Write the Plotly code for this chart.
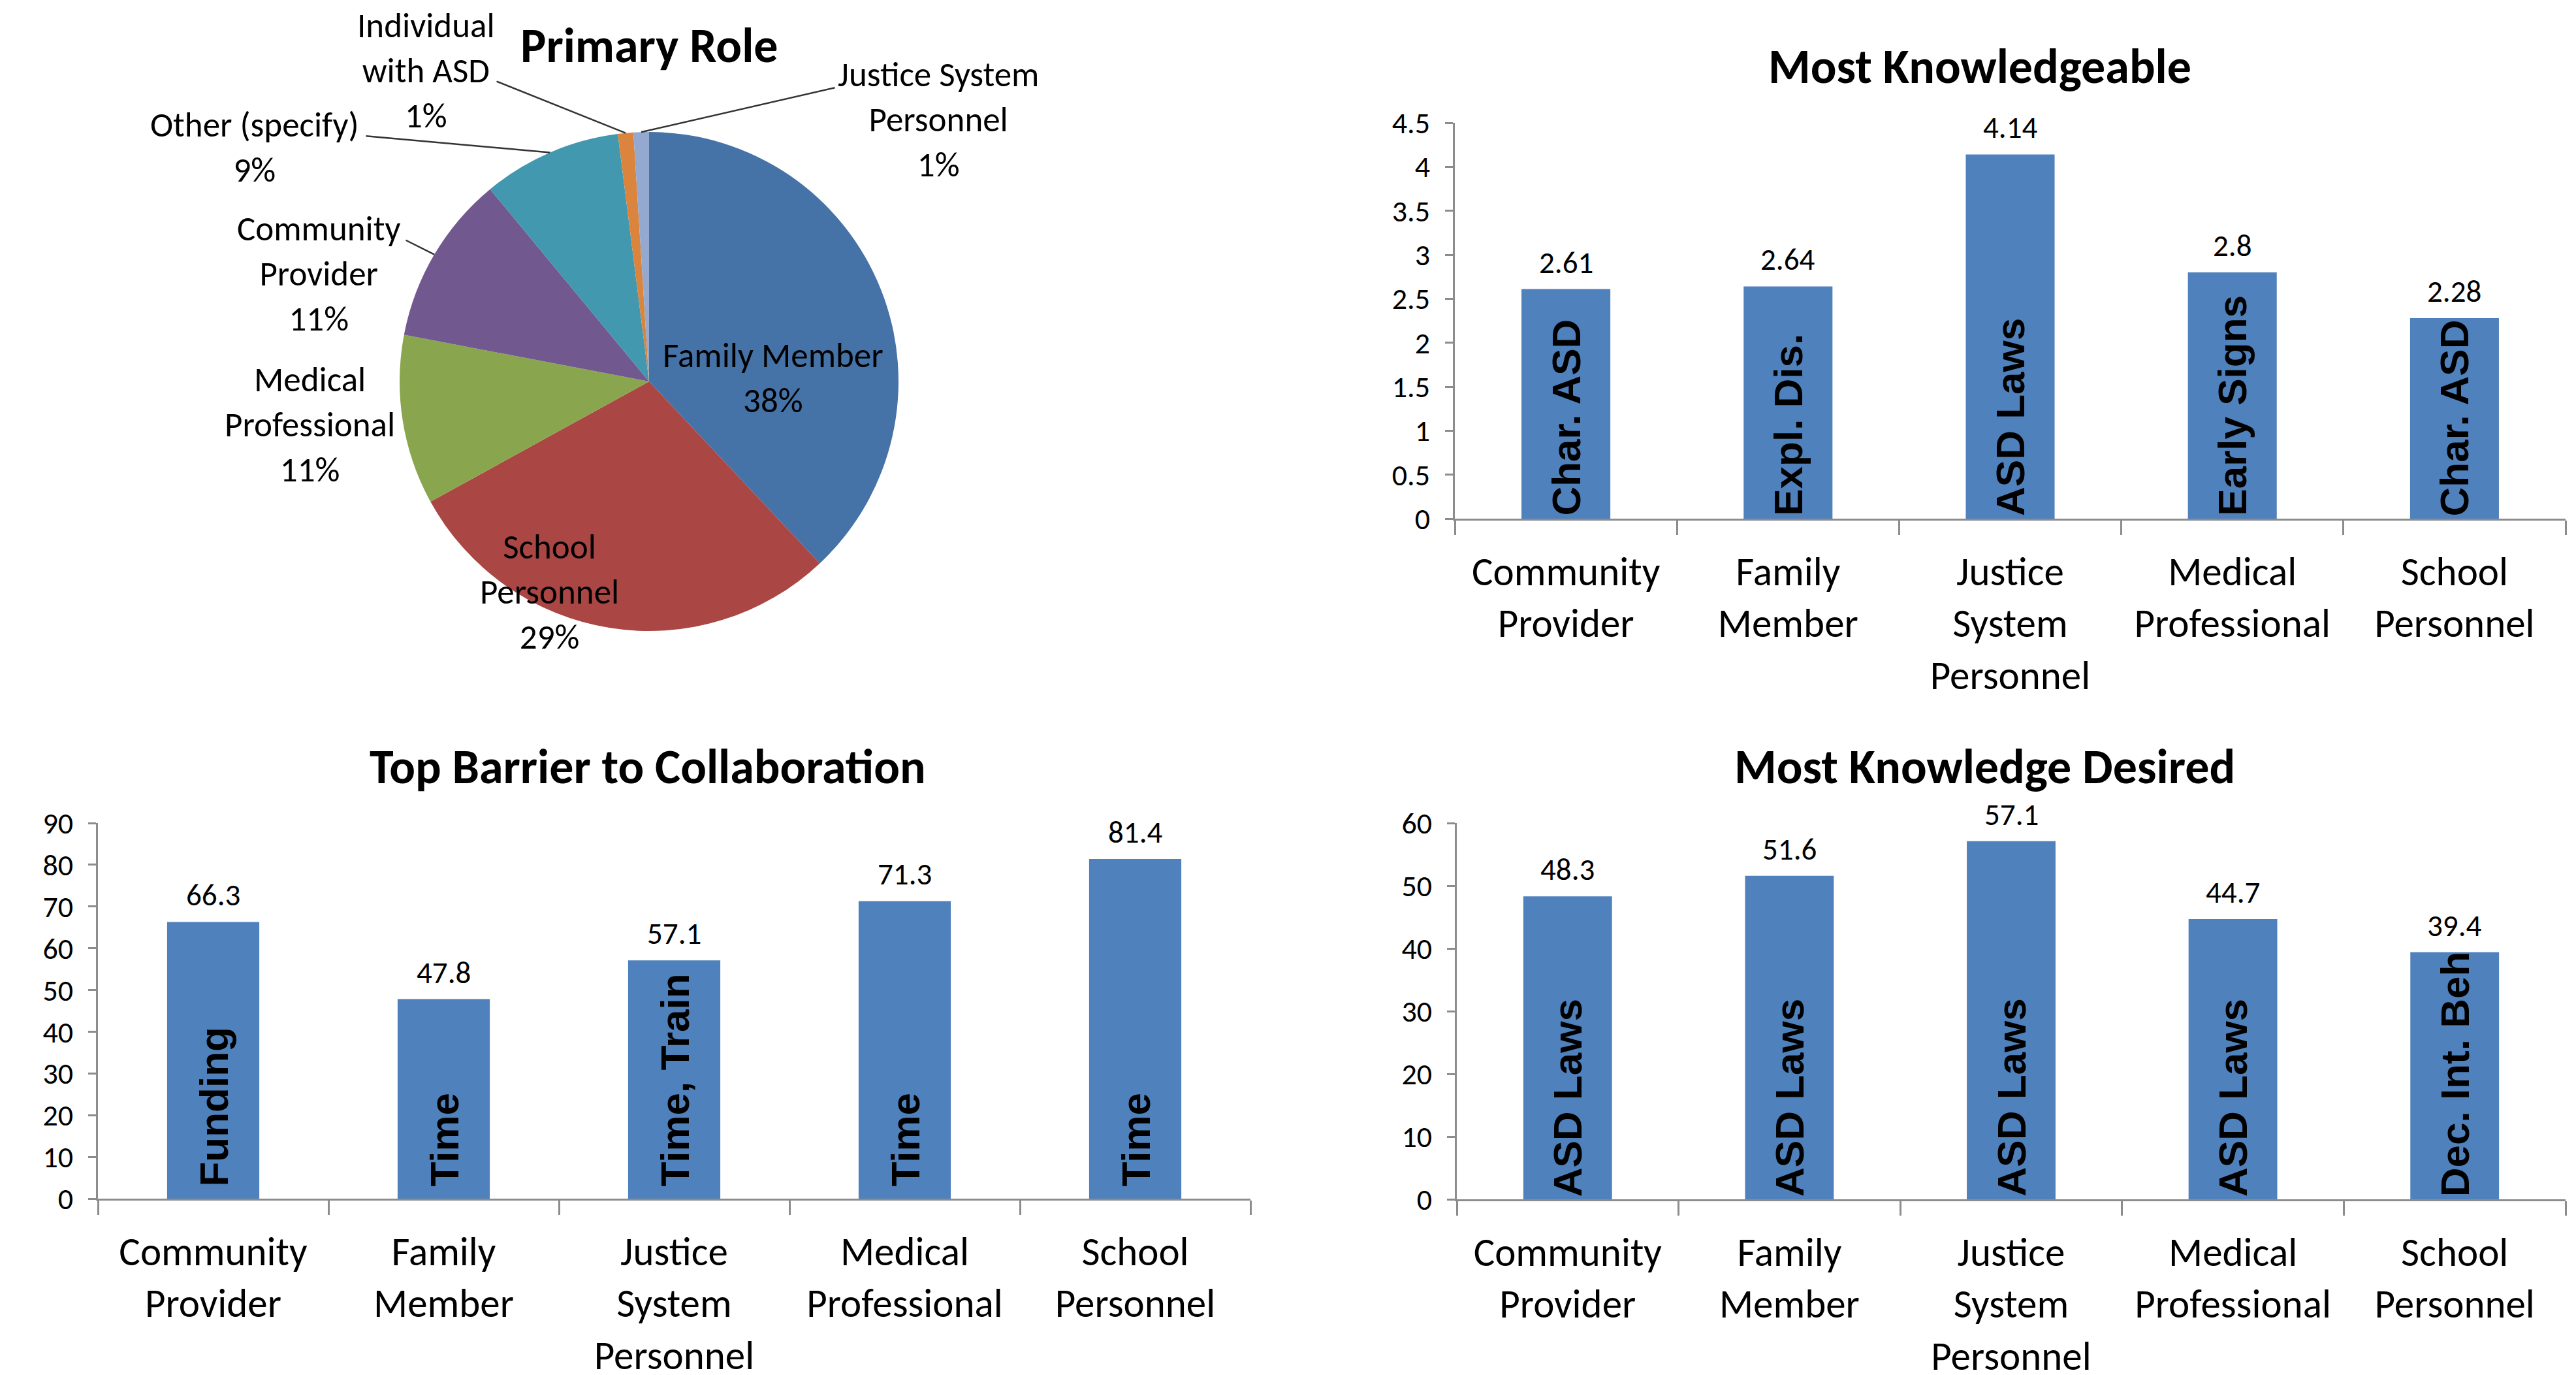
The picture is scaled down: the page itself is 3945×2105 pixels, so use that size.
import math
import plotly.graph_objects as go

# ---------------- data ----------------
roles = ["Family Member", "School Personnel", "Medical Professional",
         "Community Provider", "Other (specify)", "Individual with ASD",
         "Justice System Personnel"]
role_pct = [38, 29, 11, 11, 9, 1, 1]
pie_colors = ["#4572A7", "#AA4643", "#89A54E", "#71588F", "#4198AF", "#DB843D", "#93A9CF"]

categories = ["Community<br>Provider", "Family<br>Member", "Justice<br>System<br>Personnel",
              "Medical<br>Professional", "School<br>Personnel"]

knowledgeable_vals = [2.61, 2.64, 4.14, 2.8, 2.28]
knowledgeable_topics = ["Char. ASD", "Expl. Dis.", "ASD Laws", "Early Signs", "Char. ASD"]

barrier_vals = [66.3, 47.8, 57.1, 71.3, 81.4]
barrier_topics = ["Funding", "Time", "Time, Train", "Time", "Time"]

desired_vals = [48.3, 51.6, 57.1, 44.7, 39.4]
desired_topics = ["ASD Laws", "ASD Laws", "ASD Laws", "ASD Laws", "Dec. Int. Beh"]

# ---------------- style ----------------
W, H = 3945, 2105
OFF = 8  # page body margin compensation (px)
FONT = "Carlito, 'Liberation Sans Narrow', 'Open Sans', sans-serif"
BOLDFONT = "'Liberation Sans', Arial, sans-serif"
BAR = "#4F81BD"
AXC = "#8C8C8C"


def px_x(p):
    return (p - OFF) / W


def px_y(p):
    return 1 - (p - OFF) / H


# pie geometry (page pixels)
cx, cy, r = 994, 584, 382
pie_dom_x = [px_x(cx - r), px_x(cx + r)]
pie_dom_y = [px_y(cy + r), px_y(cy - r)]

fig = go.Figure()
fig.add_trace(go.Pie(
    labels=roles, values=role_pct, sort=False, direction="clockwise", rotation=0,
    marker=dict(colors=pie_colors, line=dict(width=0)),
    textinfo="none", hoverinfo="label+percent", showlegend=False,
    domain=dict(x=pie_dom_x, y=pie_dom_y), automargin=False,
))

annotations = []


def ann(text, x, y, size, bold=False, **kw):
    annotations.append(dict(
        text=f"<b>{text}</b>" if bold else text, x=px_x(x), y=px_y(y),
        xref="paper", yref="paper", xanchor="center", yanchor="middle", showarrow=False,
        font=dict(family=FONT, size=size, color="black"), **kw))


# titles
ann("Primary Role", 994, 70, 74, bold=True)
ann("Most Knowledgeable", 3032, 102, 74, bold=True)
ann("Top Barrier to Collaboration", 992, 1174, 74, bold=True)
ann("Most Knowledge Desired", 3039, 1174, 74, bold=True)

# pie labels
total = sum(role_pct)
pct = [f"{v / total * 100:.0f}%" for v in role_pct]
label_text = {
    "Family Member": "Family Member<br>" + pct[0],
    "School Personnel": "School<br>Personnel<br>" + pct[1],
    "Medical Professional": "Medical<br>Professional<br>" + pct[2],
    "Community Provider": "Community<br>Provider<br>" + pct[3],
    "Other (specify)": "Other (specify)<br>" + pct[4],
    "Individual with ASD": "Individual<br>with ASD<br>" + pct[5],
    "Justice System Personnel": "Justice System<br>Personnel<br>" + pct[6],
}
label_pos = {
    "Family Member": (1184, 578),
    "School Personnel": (841, 906),
    "Medical Professional": (474, 650),
    "Community Provider": (488, 419),
    "Other (specify)": (390, 226),
    "Individual with ASD": (652, 108),
    "Justice System Personnel": (1437, 183),
}
for name in roles:
    x, y = label_pos[name]
    ann(label_text[name], x, y, 53)

# leader lines from label to slice edge (slice mid-angle from data)
leader_tail = {
    "Community Provider": (620, 367),
    "Other (specify)": (559, 208),
    "Individual with ASD": (759, 124),
    "Justice System Personnel": (1280, 134),
}
cum = 0
for name, v in zip(roles, role_pct):
    mid = (cum + v / 2) / total * 2 * math.pi
    cum += v
    if name in leader_tail:
        hx = cx + r * math.sin(mid)
        hy = cy - r * math.cos(mid)
        tx, ty = leader_tail[name]
        annotations.append(dict(
            text="", x=px_x(hx), y=px_y(hy), xref="paper", yref="paper", showarrow=True,
            arrowhead=0, arrowwidth=2.5, arrowcolor="#333333",
            ax=tx - hx, ay=ty - hy, axref="pixel", ayref="pixel", standoff=0))

# bar charts (domains in page pixels)
charts = [
    dict(ax="2", vals=knowledgeable_vals, topics=knowledgeable_topics,
         xd=[px_x(2228), px_x(3929)], yd=[px_y(794), px_y(188)], rng=[0, 4.5], dtick=0.5, shift=2),
    dict(ax="3", vals=barrier_vals, topics=barrier_topics,
         xd=[px_x(150), px_x(1915)], yd=[px_y(1835), px_y(1260)], rng=[0, 90], dtick=10, shift=16),
    dict(ax="4", vals=desired_vals, topics=desired_topics,
         xd=[px_x(2231), px_x(3929)], yd=[px_y(1836), px_y(1260)], rng=[0, 60], dtick=10, shift=2),
]

layout_axes = {}
for c in charts:
    a = c["ax"]
    fig.add_trace(go.Bar(
        x=categories, y=c["vals"], xaxis="x" + a, yaxis="y" + a,
        marker=dict(color=BAR, line=dict(width=0)), showlegend=False, width=0.4,
        hoverinfo="x+y",
    ))
    # value labels above bars
    for cat, v in zip(categories, c["vals"]):
        annotations.append(dict(
            text=f"{v:g}", x=cat, y=v, xref="x" + a, yref="y" + a,
            xanchor="center", yanchor="bottom", yshift=10, showarrow=False,
            font=dict(family=FONT, size=47, color="black")))
    layout_axes["xaxis" + a] = dict(
        domain=c["xd"], anchor="y" + a, type="category", automargin=False,
        showline=True, linecolor=AXC, linewidth=2.5, mirror=False,
        ticks="outside", tickson="boundaries", ticklen=22, tickwidth=2.5, tickcolor=AXC,
        tickfont=dict(family=FONT, size=61, color="black"), ticklabelstandoff=26,
        showgrid=False, zeroline=False, fixedrange=True,
    )
    layout_axes["yaxis" + a] = dict(
        domain=c["yd"], anchor="x" + a, range=c["rng"], dtick=c["dtick"], automargin=False,
        showline=True, linecolor=AXC, linewidth=2.5,
        ticks="outside", ticklen=12, tickwidth=2.5, tickcolor=AXC,
        tickfont=dict(family=FONT, size=46, color="black"), ticklabelstandoff=14,
        showgrid=False, zeroline=False, fixedrange=True,
    )
    for cat, topic in zip(categories, c["topics"]):
        annotations.append(dict(
            text=f"<b>{topic}</b>", x=cat, y=0, xref="x" + a, yref="y" + a,
            xanchor="center", yanchor="bottom", textangle=-90, showarrow=False,
            yshift=c["shift"], font=dict(family=BOLDFONT, size=62, color="black")))

fig.update_layout(
    width=W, height=H, margin=dict(l=0, r=0, t=0, b=0, pad=0, autoexpand=False),
    paper_bgcolor="white", plot_bgcolor="white",
    font=dict(family=FONT, color="black"),
    annotations=annotations, bargap=0.6, showlegend=False,
    **layout_axes,
)

fig.write_html("out.html")
